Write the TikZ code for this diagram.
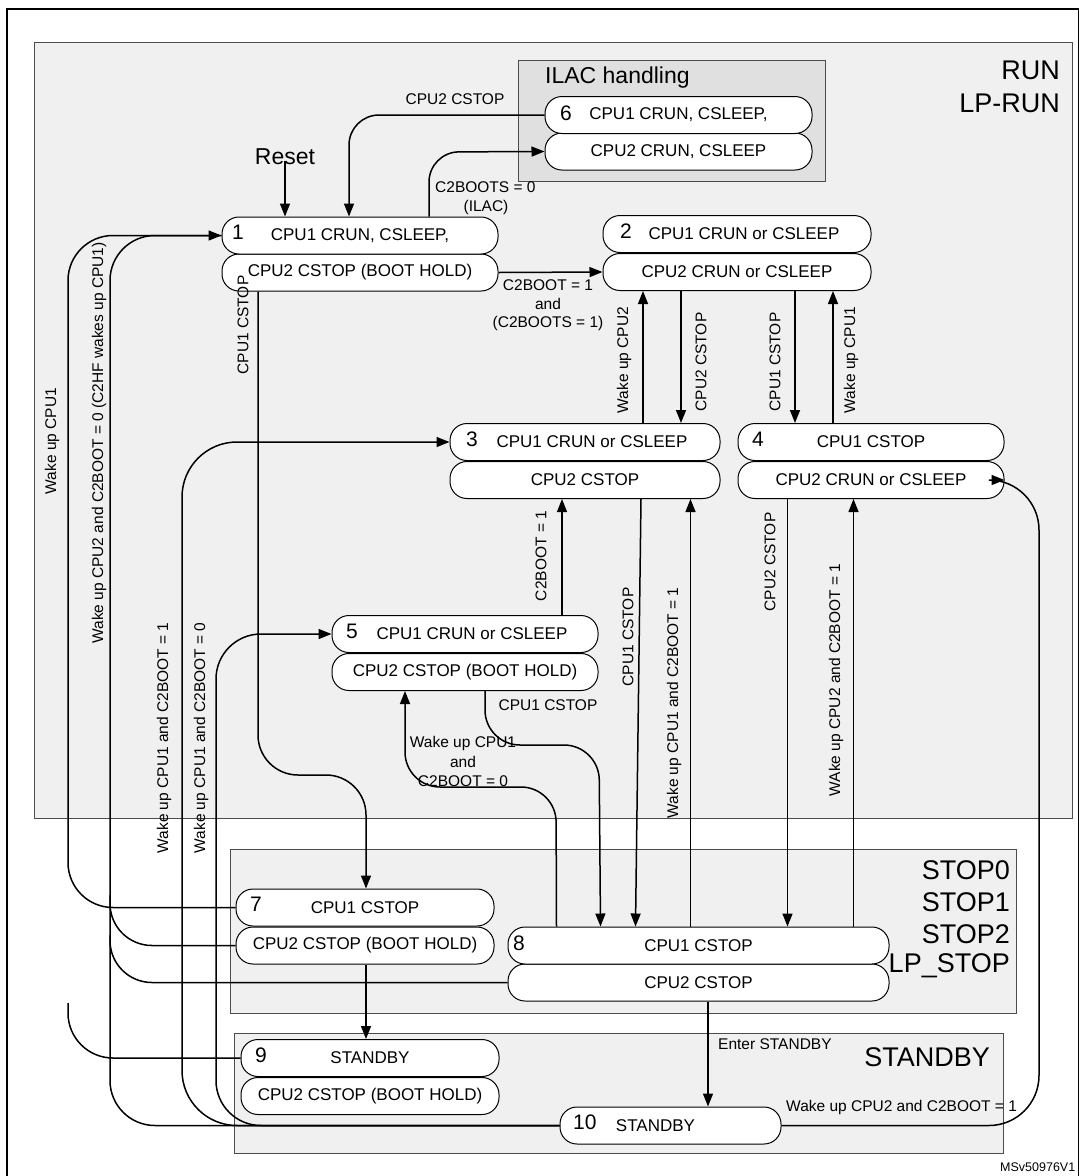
\documentclass[tikz,border=0pt]{standalone}
\usepackage{fontspec}
\setmainfont{Liberation Sans}
\usetikzlibrary{arrows.meta,calc}
\begin{document}
\begin{tikzpicture}[x=1pt,y=-1pt,
  row/.style={draw,line width=1pt,fill=white,rounded corners=17pt,minimum height=37pt,inner sep=0pt,font=\fontsize{17}{19}\selectfont},
  num/.style={anchor=west,inner sep=0pt,font=\fontsize{21}{23}\selectfont},
  lab/.style={inner sep=0pt,font=\fontsize{15.5}{17}\selectfont},
  vlab/.style={lab,rotate=90},
  big/.style={inner sep=0pt,font=\fontsize{27}{29}\selectfont,anchor=east},
  region/.style={draw=black!70,line width=1pt,fill=black!6},
  ln/.style={line width=1.5pt},
  arr/.style={ln,-{Triangle[length=13pt,width=10pt]}}]
\useasboundingbox (0,0) rectangle (1079,1176);
\draw[line width=1.5pt] (7,9) rectangle (1079,1190);
\node[coordinate] (runNW) at (34,42) {};
\node[coordinate] (runSE) at (1072,818) {};
\draw[region] (runNW) rectangle (runSE);
\node[big] (runlab) at (1060,70) {RUN};
\node[big] (lprunlab) at (1060,103) {LP-RUN};
\draw[draw=black!70,line width=1pt,fill=black!12] (518,60) rectangle (825,181);
\node[anchor=west,inner sep=0pt,font=\fontsize{23}{25}\selectfont] (ilac) at (545,78) {ILAC handling};
\draw[region] (230,849) rectangle (1016,1013);
\node[big] (s0) at (1010,870) {STOP0};
\node[big] (s1) at (1010,902) {STOP1};
\node[big] (s2) at (1010,934) {STOP2};
\node[big] (s3) at (1010,966) {LP\_STOP};
\draw[region] (234,1033) rectangle (1003,1153);
\node[big] (sb) at (990,1057) {STANDBY};
\node[anchor=west,inner sep=0pt,font=\fontsize{12.5}{14}\selectfont] (ms) at (1000,1167) {MSv50976V1};

% boxes
\node[row,minimum width=267pt] (b6b) at (678.5,151.5) {CPU2 CRUN, CSLEEP};
\node[row,minimum width=267pt] (b6a) at (678.5,115) {CPU1 CRUN, CSLEEP,};
\node[num] (n6) at (560,113) {6};
\node[row,minimum width=276pt] (b1b) at (360,272.5) {CPU2 CSTOP (BOOT HOLD)};
\node[row,minimum width=276pt] (b1a) at (360,235.5) {CPU1 CRUN, CSLEEP,};
\node[num] (n1) at (232,232) {1};
\node[row,minimum width=268pt] (b2b) at (737,272) {CPU2 CRUN or CSLEEP};
\node[row,minimum width=268pt] (b2a) at (737,234) {\hspace*{14pt}CPU1 CRUN or CSLEEP};
\node[num] (n2) at (620,231) {2};
\node[row,minimum width=270pt] (b3b) at (585,480) {CPU2 CSTOP};
\node[row,minimum width=270pt] (b3a) at (585,442) {\hspace*{14pt}CPU1 CRUN or CSLEEP};
\node[num] (n3) at (466,439) {3};
\node[row,minimum width=266pt] (b4b) at (871,480) {CPU2 CRUN or CSLEEP};
\node[row,minimum width=266pt] (b4a) at (871,442) {CPU1 CSTOP};
\node[num] (n4) at (752,439) {4};
\node[row,minimum width=266pt] (b5b) at (465,672) {CPU2 CSTOP (BOOT HOLD)};
\node[row,minimum width=266pt] (b5a) at (465,634) {\hspace*{14pt}CPU1 CRUN or CSLEEP};
\node[num] (n5) at (346,631) {5};
\node[row,minimum width=258pt] (b7b) at (365,945.5) {CPU2 CSTOP (BOOT HOLD)};
\node[row,minimum width=258pt] (b7a) at (365,907.5) {CPU1 CSTOP};
\node[num] (n7) at (250,904) {7};
\node[row,minimum width=381pt] (b8b) at (698.5,982.5) {CPU2 CSTOP};
\node[row,minimum width=381pt] (b8a) at (698.5,945.5) {CPU1 CSTOP};
\node[num] (n8) at (513,943) {8};
\node[row,minimum width=258pt] (b9b) at (370,1096) {CPU2 CSTOP (BOOT HOLD)};
\node[row,minimum width=258pt] (b9a) at (370,1058) {STANDBY};
\node[num] (n9) at (255,1055) {9};
\node[row,minimum width=221pt] (b10) at (670.5,1125.5) {\hspace*{-30pt}STANDBY};
\node[num] (n10) at (573,1122) {10};

% reset
\node[inner sep=0pt,font=\fontsize{23}{25}\selectfont] (reset) at (285,157) {Reset};
\draw[arr] ([yshift=4pt]reset.south) -- (reset.south |- b1a.north);

% top
\draw[arr,rounded corners=30pt] (b6a.west) -- (349,115) -- ([xshift=-11pt]b1a.north);
\node[lab] (l1) at (455,99) {CPU2 CSTOP};
\draw[arr,rounded corners=30pt] ([xshift=69pt]b1a.north) -- (429,152) -- (b6b.west);
\node[lab,anchor=west] (l2) at (435,187) {C2BOOTS = 0};
\node[lab] (l3) at (486,207) {(ILAC)};
\draw[arr] (b1b.east) -- (b2b.west);
\node[lab] (l4) at (548,285) {C2BOOT = 1};
\node[lab] (l5) at (548,304) {and};
\node[lab] (l6) at (548,323) {(C2BOOTS = 1)};

% 2<->3, 2<->4
\draw[arr] ([xshift=-94pt]b2b.south |- b3a.north) coordinate (c23) -- (c23 |- b2b.south);
\node[vlab] (l7) at (624,360) {Wake up CPU2};
\draw[arr] ([xshift=-56pt]b2b.south) coordinate (c32) -- (c32 |- b3a.north);
\node[vlab] (l8) at (701,362) {CPU2 CSTOP};
\draw[arr] ([xshift=58pt]b2b.south) coordinate (c24) -- (c24 |- b4a.north);
\node[vlab] (l9) at (775,362) {CPU1 CSTOP};
\draw[arr] ([xshift=96pt]b2b.south |- b4a.north) coordinate (c42) -- (c42 |- b2b.south);
\node[vlab] (l10) at (851,360) {Wake up CPU1};

% 5->3
\draw[arr] ([xshift=97pt]b5a.north) coordinate (c53) -- (c53 |- b3b.south);
\node[vlab] (l11) at (541,556) {C2BOOT = 1};
% 3<->8, 4<->8
\draw[arr] ([xshift=56pt]b3b.south) -- ([xshift=-63pt]b8a.north);
\node[vlab] (l12) at (628,637) {CPU1 CSTOP};
\draw[arr] ([xshift=-8pt]b8a.north) coordinate (c83) -- (c83 |- b3b.south);
\node[vlab] (l13) at (674,703) {Wake up CPU1 and  C2BOOT = 1};
\draw[arr] ([xshift=89pt]b8a.north |- b4b.south) coordinate (c48) -- (c48 |- b8a.north);
\node[vlab] (l14) at (770,562) {CPU2 CSTOP};
\draw[arr] ([xshift=155pt]b8a.north) coordinate (c84) -- (c84 |- b4b.south);
\node[vlab] (l15) at (836,680) {WAke up CPU2 and  C2BOOT = 1};

% 5 <-> 8
\draw[arr,rounded corners=35pt] ([xshift=20pt]b5b.south) -- (485,745) -- (599,745) -- ([xshift=-98pt]b8a.north);
\node[lab] (l16) at (548,705) {CPU1 CSTOP};
\draw[arr,rounded corners=35pt] ([xshift=-142pt]b8a.north) -- (556,787) -- (405,787) -- ([xshift=-60pt]b5b.south);
\node[lab] (l17) at (463,743) {Wake up CPU1};
\node[lab] (l18) at (463,762) {and};
\node[lab] (l19) at (463,781) {C2BOOT = 0};

% 1 -> 7
\draw[arr,rounded corners=40pt] ([xshift=-102pt]b1b.south) -- (258,775) -- (366,775) -- (b7a.north -| 366,0);
\node[vlab] (l20) at (243,325) {CPU1 CSTOP};
% 7 -> 9
\draw[arr] (b7b.south -| 366,0) -- (b9a.north -| 366,0);
% 8 -> 10
\draw[arr] ([xshift=9.5pt]b8b.south) coordinate (c810) -- (c810 |- b10.north);
\node[lab,anchor=west] (l21) at (718,1044) {Enter STANDBY};
% 10 -> 4
\draw[arr,rounded corners=50pt] (b10.east) -- (1039,1125.5) -- (1039,480) -- (b4b.east);
\node[lab,anchor=west] (l22) at (786,1107) {Wake up CPU2 and C2BOOT = 1};

% left side
\draw[arr,rounded corners=45pt] (b7a.west) -- (68,907.5) -- (68,235.5) -- (b1a.west);
\draw[ln,rounded corners=45pt] (b9a.west) -- (68,1058) -- (68,1003);
\draw[ln,rounded corners=45pt] (b10.west) -- (110,1125.5) -- (110,235.5) -- (b1a.west);
\draw[ln,rounded corners=42pt] (b7b.west) -- (110,945.5) -- (110,895);
\draw[ln,rounded corners=42pt] (b8b.west) -- (110,982.5) -- (110,935);
\draw[arr,rounded corners=55pt] (b10.west) -- (182,1125.5) -- (182,442) -- (b3a.west);
\draw[arr,rounded corners=45pt] (b10.west) -- (216,1125.5) -- (216,634) -- (b5a.west);
\node[vlab] (l23) at (52,441) {Wake up CPU1};
\node[vlab] (l24) at (99,443) {Wake up CPU2 and C2BOOT = 0 (C2HF wakes up CPU1)};
\node[vlab] (l25) at (164,738) {Wake up CPU1 and  C2BOOT = 1};
\node[vlab] (l26) at (201,738) {Wake up CPU1 and C2BOOT = 0};
\end{tikzpicture}
\end{document}
